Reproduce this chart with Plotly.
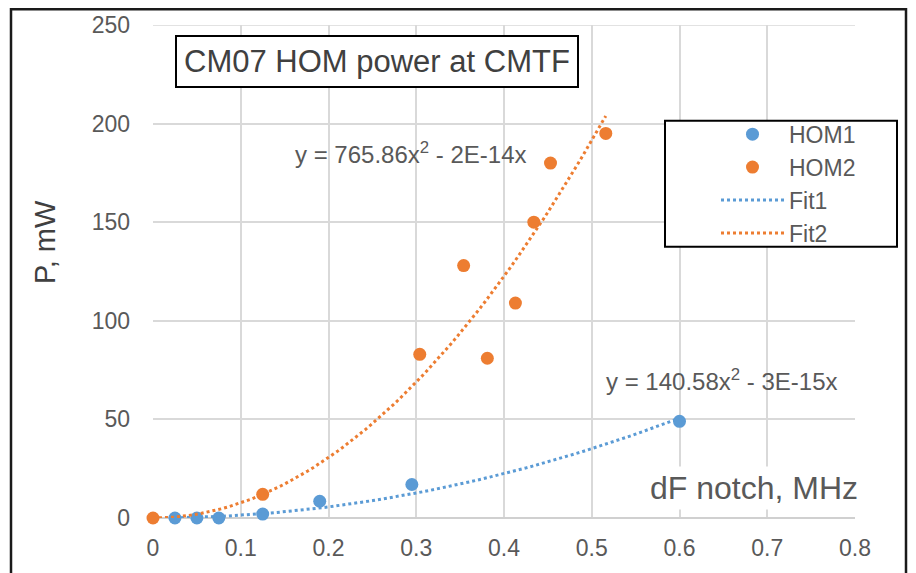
import numpy as np
import plotly.graph_objects as go

# ---- data ----
hom1_x = [0.025, 0.05, 0.075, 0.125, 0.19, 0.295, 0.60]
hom1_y = [0.0, 0.0, 0.0, 2.0, 8.5, 17.0, 49.0]
hom2_x = [0.0, 0.125, 0.304, 0.354, 0.381, 0.413, 0.434, 0.453, 0.516]
hom2_y = [0.0, 12.0, 83.0, 128.0, 81.0, 109.0, 150.0, 180.0, 195.0]
fit1_coef = 140.58   # y = a x^2 (from chart label)
fit2_coef = 765.86
x_ticks = [0, 0.1, 0.2, 0.3, 0.4, 0.5, 0.6, 0.7, 0.8]
y_ticks = [0, 50, 100, 150, 200, 250]

BLUE = "#5B9BD5"
ORANGE = "#ED7D31"
FONT = "Liberation Sans, Arial, sans-serif"
TXT = "#595959"
GRID = "#d9d9d9"

W, H = 916, 573
L, R, T, B = 153, 61, 20, 53
PW, PH = W - L - R, H - T - B


def px(xp):
    return (xp - L) / PW


def py(yp):
    return (H - B - yp) / PH


fx1 = np.linspace(min(hom1_x), max(hom1_x), 80)
fx2 = np.linspace(min(hom2_x), max(hom2_x), 80)

fig = go.Figure()
fig.add_trace(go.Scatter(x=hom1_x, y=hom1_y, mode="markers", name="HOM1",
                         marker=dict(color=BLUE, size=13), cliponaxis=False))
fig.add_trace(go.Scatter(x=hom2_x, y=hom2_y, mode="markers", name="HOM2",
                         marker=dict(color=ORANGE, size=13), cliponaxis=False))
fig.add_trace(go.Scatter(x=fx1, y=fit1_coef * fx1 ** 2, mode="lines", name="Fit1",
                         line=dict(color=BLUE, width=3, dash="dot")))
fig.add_trace(go.Scatter(x=fx2, y=fit2_coef * fx2 ** 2, mode="lines", name="Fit2",
                         line=dict(color=ORANGE, width=3, dash="dot")))

fig.update_xaxes(range=[0, 0.8], tickvals=x_ticks, ticktext=[f"{v:g}" for v in x_ticks],
                 showgrid=True, gridcolor=GRID, gridwidth=1.5, zeroline=False,
                 showline=False, ticks="", ticklabelstandoff=14,
                 tickfont=dict(family=FONT, size=23, color=TXT))
fig.update_yaxes(range=[0, 250], tickvals=y_ticks,
                 showgrid=True, gridcolor=GRID, gridwidth=1.5, zeroline=True,
                 zerolinecolor="#d0d0d0", zerolinewidth=1.5,
                 showline=False, ticks="", ticklabelstandoff=22,
                 tickfont=dict(family=FONT, size=23, color=TXT))

shapes = [
    # top gridline at 250
    dict(type="line", xref="x", yref="y", x0=x_ticks[0], x1=x_ticks[-1], y0=y_ticks[-1], y1=y_ticks[-1],
         line=dict(color=GRID, width=1.5), layer="below"),
    # legend box
    dict(type="rect", xref="paper", yref="paper", x0=px(665), x1=px(897), y0=py(245), y1=py(117),
         fillcolor="white", line=dict(color="black", width=2), layer="above"),
    # outer frame
    dict(type="rect", xref="paper", yref="paper", x0=px(11), x1=px(906), y0=py(600), y1=py(4),
         fillcolor="rgba(0,0,0,0)", line=dict(color="#1a1a1a", width=2.5), layer="above"),
]

annotations = [
    dict(text="CM07 HOM power at CMTF", xref="paper", yref="paper", x=px(377), y=py(57),
         xanchor="center", yanchor="middle", showarrow=False,
         font=dict(family=FONT, size=31, color="#404040"),
         bgcolor="white", bordercolor="black", borderwidth=2, borderpad=7),
    dict(text="y = 765.86x<sup>2</sup> - 2E-14x", xref="paper", yref="paper", x=px(293), y=py(150),
         xanchor="left", yanchor="middle", showarrow=False,
         font=dict(family=FONT, size=24, color=TXT)),
    dict(text="y = 140.58x<sup>2</sup> - 3E-15x", xref="paper", yref="paper", x=px(604), y=py(380),
         xanchor="left", yanchor="middle", showarrow=False,
         font=dict(family=FONT, size=24, color=TXT)),
    dict(text="dF notch, MHz", xref="paper", yref="paper", x=px(862), y=py(490),
         xanchor="right", yanchor="middle", showarrow=False,
         font=dict(family=FONT, size=32, color=TXT), bgcolor="white", borderpad=3),
    dict(text="P, mW", xref="paper", yref="paper", x=px(45), y=py(240),
         xanchor="center", yanchor="middle", showarrow=False, textangle=-90,
         font=dict(family=FONT, size=29, color="#404040")),
]

fig.update_layout(
    width=W, height=H,
    margin=dict(l=L, r=R, t=T, b=B, pad=0),
    paper_bgcolor="white", plot_bgcolor="white",
    shapes=shapes, annotations=annotations,
    legend=dict(x=px(716), y=py(109), xanchor="left", yanchor="top",
                bgcolor="rgba(0,0,0,0)", borderwidth=0, itemwidth=63,
                font=dict(family=FONT, size=23, color=TXT), tracegroupgap=0),
    showlegend=True,
)

fig.write_html("out.html")
